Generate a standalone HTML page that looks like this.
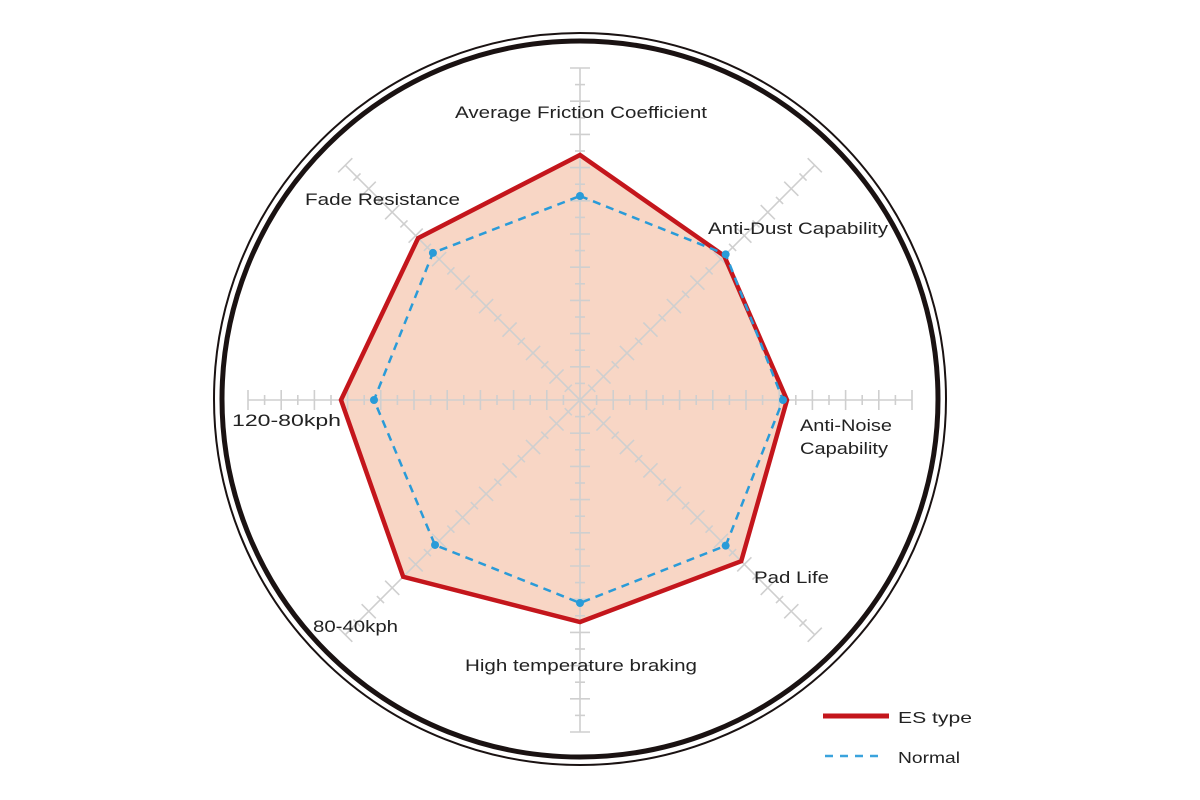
<!DOCTYPE html>
<html><head><meta charset="utf-8"><style>
html,body{margin:0;padding:0;background:#fff;}
svg{display:block;font-family:"Liberation Sans",Arial,sans-serif;}
</style></head><body>
<svg id="s" width="1200" height="800" viewBox="0 0 1200 800" xmlns="http://www.w3.org/2000/svg">
<rect width="1200" height="800" fill="#fff"/>
<circle cx="580" cy="399" r="366" fill="none" stroke="#1a1212" stroke-width="2"/>
<circle cx="580" cy="399" r="358" fill="none" stroke="#1a1212" stroke-width="5"/>
<g id="fill"></g>
<g id="grid" stroke="#cfcfcf" stroke-width="1.6" fill="none"></g>
<g id="series"></g>
<g font-size="17" fill="#222" lengthAdjust="spacingAndGlyphs">
<text x="455" y="118" textLength="252" lengthAdjust="spacingAndGlyphs">Average Friction Coefficient</text>
<text x="305" y="205" textLength="155" lengthAdjust="spacingAndGlyphs">Fade Resistance</text>
<text x="708" y="234" textLength="180" lengthAdjust="spacingAndGlyphs">Anti-Dust Capability</text>
<text x="800" y="431" textLength="92" lengthAdjust="spacingAndGlyphs">Anti-Noise</text>
<text x="800" y="454" textLength="88" lengthAdjust="spacingAndGlyphs">Capability</text>
<text x="754" y="583" textLength="75" lengthAdjust="spacingAndGlyphs">Pad Life</text>
<text x="313" y="632" textLength="85" lengthAdjust="spacingAndGlyphs">80-40kph</text>
<text x="465" y="671" textLength="232" lengthAdjust="spacingAndGlyphs">High temperature braking</text>
<text x="232" y="426" textLength="109" lengthAdjust="spacingAndGlyphs">120-80kph</text>
</g>
<line x1="823" y1="716" x2="889" y2="716" stroke="#c4161c" stroke-width="5"/>
<text x="898" y="723" font-size="16" fill="#222" textLength="74" lengthAdjust="spacingAndGlyphs">ES type</text>
<line x1="825" y1="756" x2="885" y2="756" stroke="#3aa3dd" stroke-width="2.5" stroke-dasharray="8,7"/>
<text x="898" y="763" font-size="16" fill="#222" textLength="62" lengthAdjust="spacingAndGlyphs">Normal</text>
</svg>
<script>
var cx=580,cy=400,L=332,NS="http://www.w3.org/2000/svg";
function el(p,n,a){var e=document.createElementNS(NS,n);for(var k in a)e.setAttribute(k,a[k]);document.getElementById(p).appendChild(e);return e;}
var es=[245,204,207,228,222,250,239,229], nm=[204,206,203,206,203,205,206,208];
function pt(i,r){var a=-Math.PI/2+i*Math.PI/4;return [cx+r*Math.cos(a),cy+r*Math.sin(a)];}
function poly(v){return v.map(function(r,i){var p=pt(i,r);return p[0].toFixed(1)+","+p[1].toFixed(1);}).join(" ");}
el("fill","polygon",{points:poly(es),fill:"#f8d6c5",stroke:"none"});
for(var i=0;i<8;i++){
 var a=-Math.PI/2+i*Math.PI/4,dx=Math.cos(a),dy=Math.sin(a),px=-dy,py=dx;
 el("grid","line",{x1:cx,y1:cy,x2:cx+L*dx,y2:cy+L*dy});
 for(var k=1;k<=20;k++){var r=k*L/20,h=(k%2==0)?10:5,x=cx+r*dx,y=cy+r*dy;
  el("grid","line",{x1:x-h*px,y1:y-h*py,x2:x+h*px,y2:y+h*py});}
}
el("series","polygon",{points:poly(es),fill:"none",stroke:"#c4161c","stroke-width":4.5,"stroke-linejoin":"miter"});
el("series","polygon",{points:poly(nm),fill:"none",stroke:"#2a9bd8","stroke-width":2.5,"stroke-dasharray":"8,6"});
nm.forEach(function(r,i){var p=pt(i,r);el("series","circle",{cx:p[0],cy:p[1],r:4,fill:"#2a9bd8"});});
</script>
</body></html>
